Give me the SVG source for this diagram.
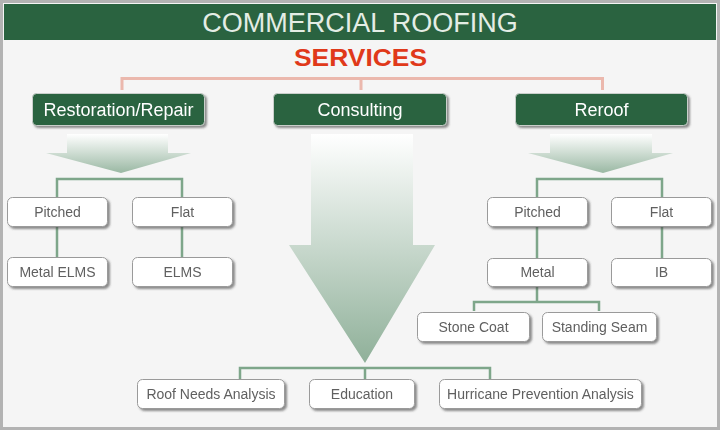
<svg xmlns="http://www.w3.org/2000/svg" width="720" height="430" viewBox="0 0 720 430">
<defs>
<style>
.title{font-family:"Liberation Sans",Arial,sans-serif;font-size:27px;fill:#e4ede5;text-anchor:middle}
.sub{font-family:"Liberation Sans",Arial,sans-serif;font-size:23px;font-weight:bold;fill:#e0391a;text-anchor:middle}
.gbox{fill:#2a6340;stroke:#c9cfcb;stroke-width:1}
.gtxt{font-family:"Liberation Sans",Arial,sans-serif;font-size:18px;fill:#ffffff;text-anchor:middle}
.wbox{fill:#ffffff;stroke:#9a9a9a;stroke-width:1}
.wtxt{font-family:"Liberation Sans",Arial,sans-serif;font-size:14px;fill:#606060;text-anchor:middle}
.pink{fill:none;stroke:#ebb8ad;stroke-width:3}
.conn{fill:none;stroke:#7ea68a;stroke-width:2.5}
</style>
<filter id="sh" x="-10%" y="-20%" width="130%" height="160%">
<feDropShadow dx="2" dy="2" stdDeviation="1" flood-color="#444" flood-opacity="0.6"/>
</filter>
<linearGradient id="ga" x1="0" y1="0" x2="0" y2="1">
<stop offset="0" stop-color="#ffffff"/>
<stop offset="1" stop-color="#8fb099"/>
</linearGradient>
<linearGradient id="gs" x1="0" y1="0" x2="0" y2="1">
<stop offset="0" stop-color="#ffffff"/>
<stop offset="1" stop-color="#9ab8a3"/>
</linearGradient>
</defs>
<rect x="1.5" y="1.5" width="717" height="427" fill="#f5f5f5" stroke="#b3b3b3" stroke-width="3"/>
<rect x="4" y="4" width="712" height="36" fill="#2a6340"/>
<text class="title" x="360" y="32">COMMERCIAL ROOFING</text>
<text class="sub" x="360.5" y="66" textLength="133" lengthAdjust="spacingAndGlyphs">SERVICES</text>

<g id="arrows">
<path d="M67,134 H168 V153 H191 L121,173 L46,153 H67 Z" fill="url(#gs)"/>
<path d="M550,134 H652 V153 H673 L603,173 L528,153 H550 Z" fill="url(#gs)"/>
<path d="M311,134 H413 V245 H435 L365,363 L289,245 H311 Z" fill="url(#ga)"/>
</g>

<g id="connectors">
<path class="pink" d="M122,90 V78.5 H602.5 V90 M361,78.5 V90"/>
<path class="conn" d="M57,197 V179 H182 V197 M57,227 V257 M182,227 V257"/>
<path class="conn" d="M537,198 V179 H662 V198 M537,227 V258 M662,227 V258"/>
<path class="conn" d="M537,287 V302 M474,311 V302 H599 V311"/>
<path class="conn" d="M240,379 V368 H490 V379 M365,368 V379"/>
</g>

<g id="restoration" filter="url(#sh)"><rect class="gbox" x="32.5" y="93.5" width="172" height="32" rx="4"/><text class="gtxt" x="118.5" y="116">Restoration/Repair</text></g>
<g id="consulting" filter="url(#sh)"><rect class="gbox" x="273.5" y="93.5" width="173" height="32" rx="4"/><text class="gtxt" x="360" y="116">Consulting</text></g>
<g id="reroof" filter="url(#sh)"><rect class="gbox" x="515.5" y="93.5" width="172" height="32" rx="4"/><text class="gtxt" x="601.5" y="116">Reroof</text></g>

<g id="pitched-l" filter="url(#sh)"><rect class="wbox" x="7.5" y="197.5" width="100" height="29" rx="5"/><text class="wtxt" x="57.5" y="217">Pitched</text></g>
<g id="flat-l" filter="url(#sh)"><rect class="wbox" x="132.5" y="197.5" width="100" height="29" rx="5"/><text class="wtxt" x="182.5" y="217">Flat</text></g>
<g id="metal-elms" filter="url(#sh)"><rect class="wbox" x="7.5" y="257.5" width="100" height="29" rx="5"/><text class="wtxt" x="57.5" y="277">Metal ELMS</text></g>
<g id="elms" filter="url(#sh)"><rect class="wbox" x="132.5" y="257.5" width="100" height="29" rx="5"/><text class="wtxt" x="182.5" y="277">ELMS</text></g>

<g id="pitched-r" filter="url(#sh)"><rect class="wbox" x="487.5" y="197.5" width="100" height="29" rx="5"/><text class="wtxt" x="537.5" y="217">Pitched</text></g>
<g id="flat-r" filter="url(#sh)"><rect class="wbox" x="611.5" y="197.5" width="100" height="29" rx="5"/><text class="wtxt" x="661.5" y="217">Flat</text></g>
<g id="metal" filter="url(#sh)"><rect class="wbox" x="487.5" y="258.5" width="100" height="28" rx="5"/><text class="wtxt" x="537.5" y="277">Metal</text></g>
<g id="ib" filter="url(#sh)"><rect class="wbox" x="611.5" y="258.5" width="100" height="28" rx="5"/><text class="wtxt" x="661.5" y="277">IB</text></g>
<g id="stone-coat" filter="url(#sh)"><rect class="wbox" x="417.5" y="312.5" width="112" height="29" rx="5"/><text class="wtxt" x="473.5" y="332">Stone Coat</text></g>
<g id="standing-seam" filter="url(#sh)"><rect class="wbox" x="542.5" y="312.5" width="114" height="29" rx="5"/><text class="wtxt" x="599.5" y="332">Standing Seam</text></g>

<g id="roof-needs" filter="url(#sh)"><rect class="wbox" x="137.5" y="379.5" width="147" height="29" rx="5"/><text class="wtxt" x="211" y="399">Roof Needs Analysis</text></g>
<g id="education" filter="url(#sh)"><rect class="wbox" x="309.5" y="379.5" width="105" height="29" rx="5"/><text class="wtxt" x="362" y="399">Education</text></g>
<g id="hurricane" filter="url(#sh)"><rect class="wbox" x="439.5" y="379.5" width="202" height="29" rx="5"/><text class="wtxt" x="540.5" y="399">Hurricane Prevention Analysis</text></g>
</svg>
